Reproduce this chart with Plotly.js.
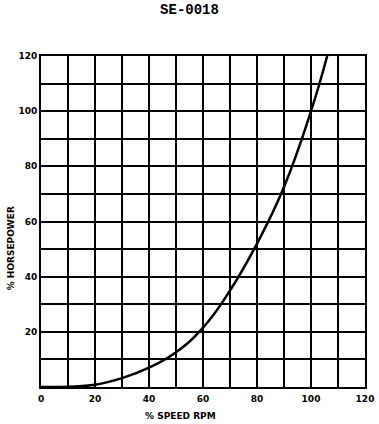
<!DOCTYPE html>
<html>
<head>
<meta charset="utf-8">
<script src="https://cdn.plot.ly/plotly-3.0.1.min.js"></script>
<style>html,body{margin:0;padding:0;background:#fff;}#chart{width:379px;height:424px;}</style>
</head>
<body>
<div id="chart"></div>
<script>
const speedPct = [0, 10, 20, 30, 40, 50, 60, 70, 80, 90, 100, 106];
const horsepowerPct = [0, 0.1, 0.8, 3.2, 7, 12.6, 21.5, 35, 52, 72.5, 100, 120];
const xTickVals = [0, 10, 20, 30, 40, 50, 60, 70, 80, 90, 100, 110, 120];
const xTickText = ['0', '', '20', '', '40', '', '60', '', '80', '', '100', '', '120'];
const yTickVals = [0, 10, 20, 30, 40, 50, 60, 70, 80, 90, 100, 110, 120];
const yTickText = ['', '', '20', '', '40', '', '60', '', '80', '', '100', '', '120'];
const xTitle = '% SPEED RPM';
const yTitle = '% HORSEPOWER';
const chartTitle = 'SE-0018';

const labelFont = {family: 'DejaVu Sans', size: 9, color: '#000', weight: 'bold'};

const trace = {
  x: speedPct, y: horsepowerPct, mode: 'lines', type: 'scatter',
  line: {color: '#000', width: 2.5, shape: 'spline', smoothing: 1.3},
  hoverinfo: 'skip', showlegend: false
};

const layout = {
  width: 379, height: 424,
  margin: {l: 41, r: 14, t: 56, b: 37},
  paper_bgcolor: '#fff', plot_bgcolor: '#fff',
  title: {text: chartTitle, x: 0.5, xanchor: 'center', y: 0.99, yanchor: 'top',
          font: {family: 'Liberation Mono', size: 14, color: '#000', weight: 'bold'}},
  xaxis: {
    range: [0, 120], tickvals: xTickVals, ticktext: xTickText,
    showgrid: true, gridcolor: '#000', gridwidth: 2,
    showline: true, linecolor: '#000', linewidth: 2, mirror: true,
    zeroline: false, ticks: '', tickfont: labelFont, ticklabelstandoff: 2
  },
  yaxis: {
    range: [0, 120], tickvals: yTickVals, ticktext: yTickText,
    showgrid: true, gridcolor: '#000', gridwidth: 2,
    showline: true, linecolor: '#000', linewidth: 2, mirror: true,
    zeroline: false, ticks: '', tickfont: labelFont
  },
  annotations: [
    {text: xTitle, xref: 'paper', yref: 'paper', x: 0.43, y: -0.066,
     xanchor: 'center', yanchor: 'top', showarrow: false, font: labelFont},
    {text: yTitle, xref: 'paper', yref: 'paper', x: -0.07, y: 0.42,
     xanchor: 'right', yanchor: 'middle', textangle: -90, showarrow: false, font: labelFont}
  ]
};

Plotly.newPlot('chart', [trace], layout, {displayModeBar: false, staticPlot: true});
</script>
</body>
</html>
